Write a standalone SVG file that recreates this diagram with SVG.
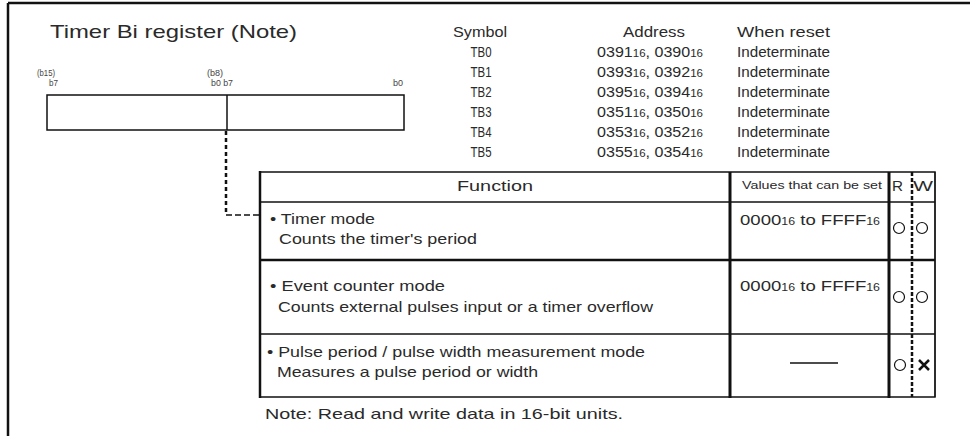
<svg xmlns="http://www.w3.org/2000/svg" width="970" height="436" viewBox="0 0 970 436">
<style>
text{font-family:"Liberation Sans",Arial,sans-serif;fill:#2a2a2a;}
.t15{font-size:15px;}
.t14{font-size:14px;}
.tb{font-size:14px;text-anchor:middle;}
.sm{font-size:9.5px;fill:#444;}
.sub{font-size:10px;}
.ln{stroke:#111;fill:none;}
</style>
<rect width="970" height="436" fill="#fff"/>
<!-- frame -->
<path class="ln" d="M8,3 H970 M8,3 V436" stroke-width="2.5"/>

<g id="register">
<text x="50" y="38" style="font-size:19px" textLength="247" lengthAdjust="spacingAndGlyphs">Timer Bi register (Note)</text>
<text class="sm" x="37" y="76" textLength="18" lengthAdjust="spacingAndGlyphs">(b15)</text>
<text class="sm" x="49" y="86" textLength="9" lengthAdjust="spacingAndGlyphs">b7</text>
<text class="sm" x="207" y="76" textLength="16" lengthAdjust="spacingAndGlyphs">(b8)</text>
<text class="sm" x="211" y="86" textLength="22" lengthAdjust="spacingAndGlyphs">b0 b7</text>
<text class="sm" x="393" y="86" textLength="10" lengthAdjust="spacingAndGlyphs">b0</text>
<rect class="ln" x="47" y="95" width="357" height="35" stroke-width="1.5"/>
<line class="ln" x1="227" y1="95" x2="227" y2="130" stroke-width="1.5"/>
</g>

<g id="address-table">
<text class="t14" x="453" y="37" textLength="54" lengthAdjust="spacingAndGlyphs">Symbol</text>
<text class="t14" x="623" y="37" textLength="62" lengthAdjust="spacingAndGlyphs">Address</text>
<text class="t14" x="737" y="37" textLength="93" lengthAdjust="spacingAndGlyphs">When reset</text>

<text class="tb" x="481" y="57" textLength="21" lengthAdjust="spacingAndGlyphs">TB0</text>
<text class="t14" x="597" y="57" textLength="106" lengthAdjust="spacingAndGlyphs">0391<tspan class="sub">16</tspan>, 0390<tspan class="sub">16</tspan></text>
<text class="t14" x="737" y="57" textLength="93" lengthAdjust="spacingAndGlyphs">Indeterminate</text>

<text class="tb" x="481" y="77" textLength="21" lengthAdjust="spacingAndGlyphs">TB1</text>
<text class="t14" x="597" y="77" textLength="106" lengthAdjust="spacingAndGlyphs">0393<tspan class="sub">16</tspan>, 0392<tspan class="sub">16</tspan></text>
<text class="t14" x="737" y="77" textLength="93" lengthAdjust="spacingAndGlyphs">Indeterminate</text>

<text class="tb" x="481" y="97" textLength="21" lengthAdjust="spacingAndGlyphs">TB2</text>
<text class="t14" x="597" y="97" textLength="106" lengthAdjust="spacingAndGlyphs">0395<tspan class="sub">16</tspan>, 0394<tspan class="sub">16</tspan></text>
<text class="t14" x="737" y="97" textLength="93" lengthAdjust="spacingAndGlyphs">Indeterminate</text>

<text class="tb" x="481" y="117" textLength="21" lengthAdjust="spacingAndGlyphs">TB3</text>
<text class="t14" x="597" y="117" textLength="106" lengthAdjust="spacingAndGlyphs">0351<tspan class="sub">16</tspan>, 0350<tspan class="sub">16</tspan></text>
<text class="t14" x="737" y="117" textLength="93" lengthAdjust="spacingAndGlyphs">Indeterminate</text>

<text class="tb" x="481" y="137" textLength="21" lengthAdjust="spacingAndGlyphs">TB4</text>
<text class="t14" x="597" y="137" textLength="106" lengthAdjust="spacingAndGlyphs">0353<tspan class="sub">16</tspan>, 0352<tspan class="sub">16</tspan></text>
<text class="t14" x="737" y="137" textLength="93" lengthAdjust="spacingAndGlyphs">Indeterminate</text>

<text class="tb" x="481" y="157" textLength="21" lengthAdjust="spacingAndGlyphs">TB5</text>
<text class="t14" x="597" y="157" textLength="106" lengthAdjust="spacingAndGlyphs">0355<tspan class="sub">16</tspan>, 0354<tspan class="sub">16</tspan></text>
<text class="t14" x="737" y="157" textLength="93" lengthAdjust="spacingAndGlyphs">Indeterminate</text>
</g>

<g id="connectors">
<line class="ln" x1="226" y1="131" x2="226" y2="215" stroke-width="2.5" stroke-dasharray="4 3"/>
<line class="ln" x1="226" y1="215" x2="260" y2="215" stroke-width="1.5" stroke-dasharray="6 3"/>
</g>

<g id="function-table">
<path class="ln" d="M260,172 H935 V397 H260 Z" stroke-width="1.5"/>
<line class="ln" x1="260" y1="171" x2="260" y2="398" stroke-width="2.5"/>
<line class="ln" x1="260" y1="202" x2="935" y2="202" stroke-width="1.5"/>
<line class="ln" x1="260" y1="260" x2="935" y2="260" stroke-width="2.5"/>
<line class="ln" x1="260" y1="334" x2="935" y2="334" stroke-width="1.5"/>
<line class="ln" x1="730" y1="172" x2="730" y2="398" stroke-width="3"/>
<line class="ln" x1="889" y1="172" x2="889" y2="398" stroke-width="3"/>
<line class="ln" x1="935" y1="172" x2="935" y2="397" stroke-width="1"/>
<line class="ln" x1="912" y1="172" x2="912" y2="397" stroke-width="2.5" stroke-dasharray="4 2"/>

<text class="t15" x="457" y="191" textLength="76" lengthAdjust="spacingAndGlyphs">Function</text>
<text x="742" y="189" style="font-size:11px" textLength="140" lengthAdjust="spacingAndGlyphs">Values that can be set</text>
<text class="t15" x="892" y="191" textLength="11" lengthAdjust="spacingAndGlyphs">R</text>
<text class="t15" x="913" y="191" textLength="20" lengthAdjust="spacingAndGlyphs">W</text>
</g>

<g id="row-timer">
<text class="t15" x="270" y="224" textLength="105" lengthAdjust="spacingAndGlyphs">• Timer mode</text>
<text class="t15" x="279" y="244" textLength="198" lengthAdjust="spacingAndGlyphs">Counts the timer's period</text>
<text class="t15" x="740" y="225" textLength="140" lengthAdjust="spacingAndGlyphs">0000<tspan class="sub">16</tspan> to FFFF<tspan class="sub">16</tspan></text>
<circle class="ln" cx="899" cy="228" r="5.5" stroke-width="1.2"/>
<circle class="ln" cx="922" cy="228" r="5.5" stroke-width="1.2"/>
</g>

<g id="row-event">
<text class="t15" x="270" y="291" textLength="175" lengthAdjust="spacingAndGlyphs">• Event counter  mode</text>
<text class="t15" x="278" y="312" textLength="375" lengthAdjust="spacingAndGlyphs">Counts external pulses input or a timer overflow</text>
<text class="t15" x="740" y="291" textLength="140" lengthAdjust="spacingAndGlyphs">0000<tspan class="sub">16</tspan> to FFFF<tspan class="sub">16</tspan></text>
<circle class="ln" cx="899" cy="297" r="5.5" stroke-width="1.2"/>
<circle class="ln" cx="922" cy="297" r="5.5" stroke-width="1.2"/>
</g>

<g id="row-pulse">
<text class="t15" x="267" y="357" textLength="378" lengthAdjust="spacingAndGlyphs">• Pulse period / pulse width measurement mode</text>
<text class="t15" x="277" y="377" textLength="261" lengthAdjust="spacingAndGlyphs">Measures a pulse period or width</text>
<line class="ln" x1="790" y1="363" x2="838" y2="363" stroke-width="1.5"/>
<circle class="ln" cx="900" cy="365" r="5.5" stroke-width="1.2"/>
<path class="ln" d="M919,360 L929,370 M929,360 L919,370" stroke-width="2.5"/>
</g>

<g id="note">
<text class="t15" x="265" y="419" textLength="358" lengthAdjust="spacingAndGlyphs">Note: Read and write data in 16-bit units.</text>
</g>
</svg>
